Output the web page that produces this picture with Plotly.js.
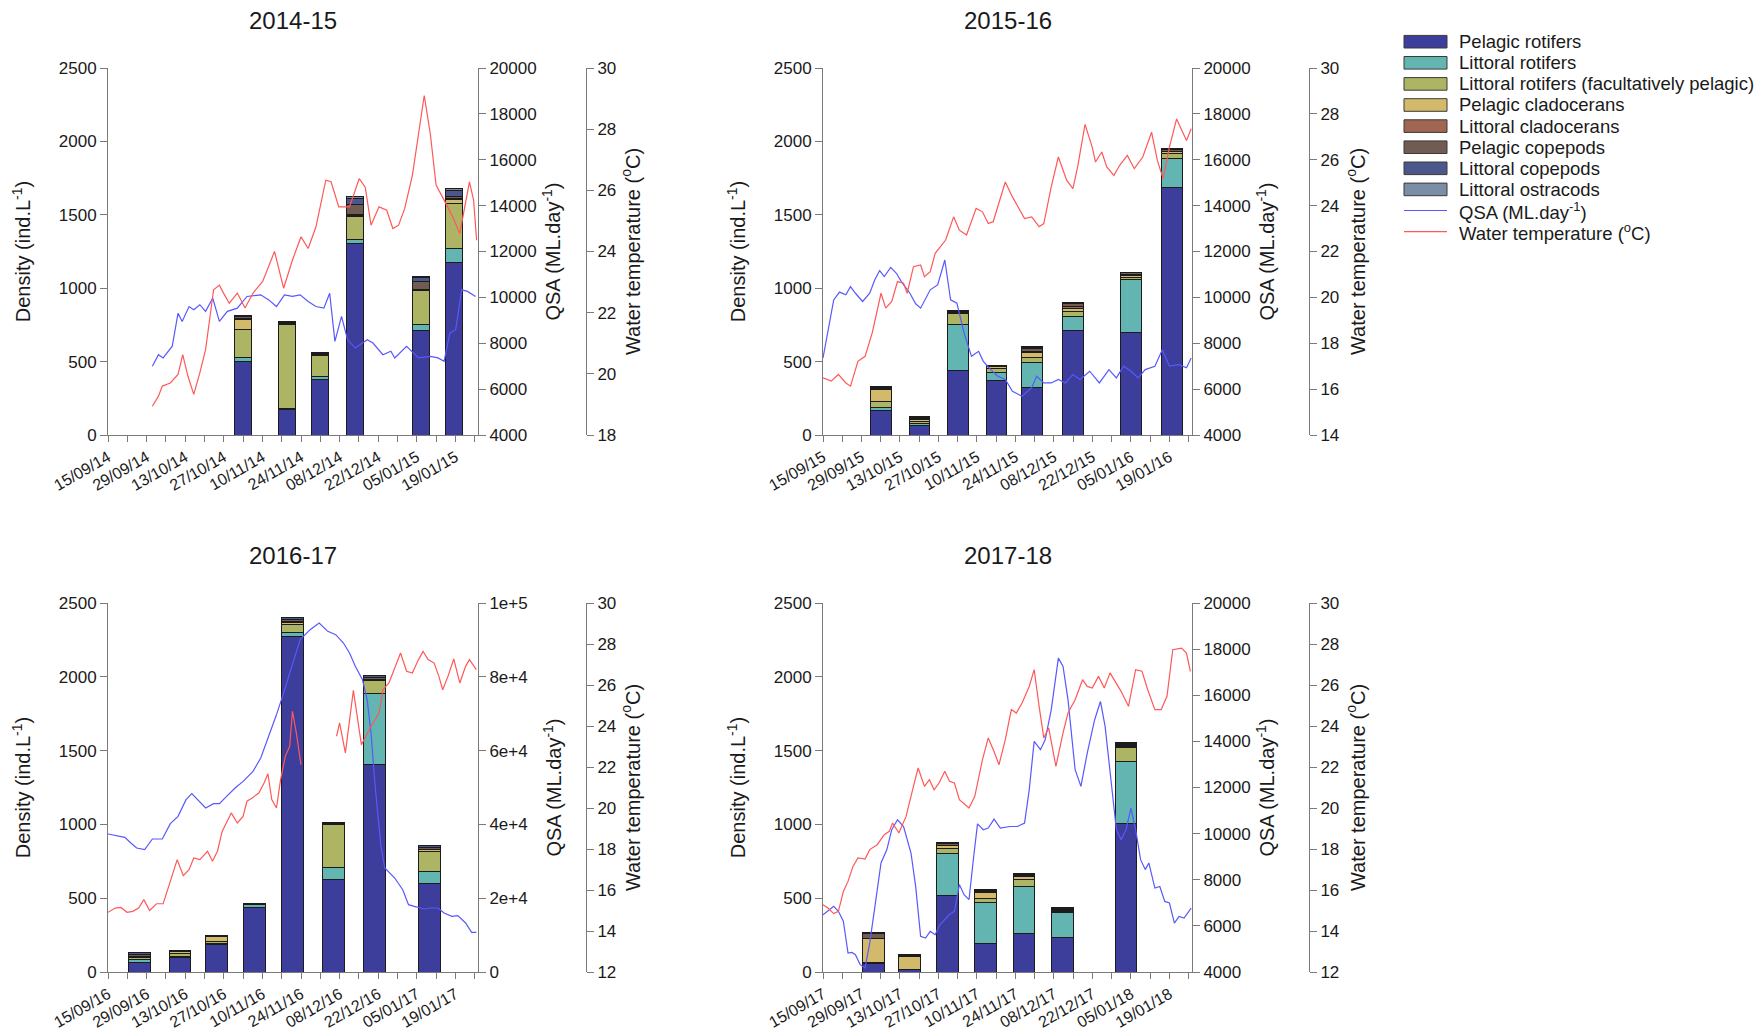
<!DOCTYPE html>
<html>
<head>
<meta charset="utf-8">
<script src="https://cdn.plot.ly/plotly-3.0.1.min.js"></script>
<style>
  html, body { margin: 0; padding: 0; background: #ffffff; }
  #chart { width: 1762px; height: 1032px; }
</style>
</head>
<body>
<div id="chart"></div>
<script>
// ---- Zooplankton groups (stacking order, bottom to top) ----
const groupNames = [
  'Pelagic rotifers',
  'Littoral rotifers',
  'Littoral rotifers (facultatively pelagic)',
  'Pelagic cladocerans',
  'Littoral cladocerans',
  'Pelagic copepods',
  'Littoral copepods',
  'Littoral ostracods'
];
const groupColors = [
  'rgb(61,61,155)', 'rgb(99,181,178)', 'rgb(173,181,101)', 'rgb(211,186,106)',
  'rgb(160,102,82)', 'rgb(112,92,82)', 'rgb(76,88,140)', 'rgb(124,142,166)'
];

// x values are days since 15 September of each season
// ---- 2014-15 ----
const ticks1415 = ['15/09/14','29/09/14','13/10/14','27/10/14','10/11/14','24/11/14','08/12/14','22/12/14','05/01/15','19/01/15'];
const sampleDay1415 = [49, 65, 77, 89.7, 113.6, 125.4];
const density1415 = [
  [502, 175, 378, 1305, 710, 1174],  // pelagic rotifers
  [23, 5, 22, 28, 41, 97],           // littoral rotifers
  [192, 570, 141, 153, 233, 306],    // littoral rotifers (facultatively pelagic)
  [70, 5, 8, 12, 5, 27],             // pelagic cladocerans
  [5, 3, 3, 5, 5, 10],               // littoral cladocerans
  [12, 10, 8, 70, 50, 8],            // pelagic copepods
  [5, 3, 3, 35, 30, 41],             // littoral copepods
  [3, 2, 2, 15, 5, 16]               // littoral ostracods
];
const qsaDay1415 = [16.1,18.3,20,23.3,25.4,26.9,29.4,31.1,33.3,35.4,38,40.4,43.3,46.9,50.4,55.4,58.3,61.1,64,66.9,69.7,72.6,75.4,78.3,80.4,82.3,84.7,86.9,89.7,94,96.1,99.7,102.6,104,108.3,112.6,116.9,119.7,121.9,124,126.1,128.3,130.4,133.3];
const qsa1415 = [7000,7500,7360,7870,9310,8950,9600,9460,9680,9390,9970,8950,9390,9530,10040,10110,9890,9600,10110,10040,10110,9820,9600,9530,10180,8080,9170,8150,7790,8150,8010,7500,7650,7360,7870,7360,7430,7360,7210,8450,8590,10330,10260,10040];
const tempDay1415 = [16.1,18.3,19.7,22.6,25.4,27.1,29,31.1,33.3,35.4,38.3,40.4,41.9,44,46.9,49.7,52.6,56.1,60.4,63.7,66.9,70,72.6,75.4,79,80.9,83.7,87.6,91.1,93.3,95.4,98.3,101.1,103.3,105.4,107.6,110.4,114.7,116.9,119,121.9,124.7,127.6,129,131.1,132.6,133.7];
const temp1415 = [18.94,19.27,19.6,19.7,19.98,20.63,19.92,19.33,20.03,20.79,22.75,22.9,22.64,22.31,22.64,22.15,22.64,23.02,24,22.8,23.72,24.48,24.1,24.8,26.33,26.28,25.46,25.46,26.38,26.1,24.86,25.46,25.35,24.75,24.86,25.4,26.49,29.1,27.85,26.17,25.68,25.19,24.59,25.24,26.28,25.68,24.37];

// ---- 2015-16 ----
const ticks1516 = ['15/09/15','29/09/15','13/10/15','27/10/15','10/11/15','24/11/15','08/12/15','22/12/15','05/01/16','19/01/16'];
const sampleDay1516 = [21.1, 35.1, 49.2, 63.1, 76.1, 91, 112, 126.9];
const density1516 = [
  [170, 66, 441, 371, 326, 710, 699, 1686],
  [15, 10, 310, 52, 169, 98, 358, 196],
  [45, 18, 79, 27, 30, 34, 15, 34],
  [80, 15, 5, 18, 34, 22, 12, 12],
  [5, 5, 3, 3, 12, 8, 8, 5],
  [8, 8, 6, 3, 18, 22, 12, 12],
  [5, 5, 4, 1, 10, 8, 5, 7],
  [0, 2, 0, 0, 5, 3, 0, 3]
];
const qsaDay1516 = [0,2.1,3.9,6,8.3,10,11.8,14.4,17,18.8,20.6,22.3,24.6,26.7,28.5,31.6,33.7,35.5,39,41.7,44.3,46.4,48.7,51.3,54,56.6,58.3,61,63.6,66.3,68.9,72.4,75.9,77.7,80.3,83,85.6,88.2,90.9,93.5,97,100.5,104,106.7,109.3,112,114.6,117.2,120.7,123.4,126,129.5,132.2,133.9];
const qsa1516 = [7360,8735,9890,10230,10110,10470,10180,9820,10180,10760,11170,10910,11310,11050,10690,10180,9720,9530,10330,10540,11630,9890,9750,8450,7430,7650,7210,6850,6560,6420,5910,5690,6060,6560,6270,6270,6420,6270,6640,6420,6780,6270,6850,6490,7000,6780,6490,6850,7000,7720,7000,7070,6930,7360];
const tempDay1516 = [0,3,5.6,8.3,10,12.7,15.3,17.9,21.1,22.8,25,27.1,29.3,30.6,32.9,35.5,36.9,39,40.8,44.6,47.5,49.6,52.2,55.7,58,60.1,61.9,66.3,68.9,73.3,75.9,78.6,80.3,83,85.6,88.6,90.9,92.6,95.3,97.9,99.1,101.4,103.2,105.8,107.9,110.7,113.2,116.3,119.5,121.6,123.7,126,128.6,130.4,132.2,133.9];
const temp1516 = [16.49,16.35,16.64,16.27,16.13,17.21,17.43,18.45,20.18,19.53,19.82,20.69,20.62,20.18,21.34,21.41,20.9,21.12,21.92,22.5,23.51,22.93,22.72,23.88,23.73,23.22,23.3,25.03,24.38,23.44,23.51,23.08,23.22,24.82,26.12,25.11,24.74,25.69,27.54,26.55,25.9,26.34,25.69,25.32,25.76,26.19,25.61,26.12,27.2,25.97,25.18,26.55,27.78,27.28,26.84,27.35];

// ---- 2016-17 ----
const ticks1617 = ['15/09/16','29/09/16','13/10/16','27/10/16','10/11/16','24/11/16','08/12/16','22/12/16','05/01/17','19/01/17'];
const sampleDay1617 = [11.4, 26.1, 39.3, 53.1, 67, 81.9, 96.7, 116.7];
const density1617 = [
  [65, 95, 185, 434, 2270, 626, 1409, 598],
  [22, 11, 11, 22, 31, 79, 477, 84],
  [8, 18, 11, 7, 52, 293, 88, 136],
  [5, 16, 35, 2, 16, 5, 6, 11],
  [3, 3, 2, 1, 4, 2, 3, 4],
  [15, 3, 1, 1, 14, 3, 13, 12],
  [12, 1, 1, 0, 14, 2, 10, 10],
  [3, 0, 0, 0, 4, 0, 4, 3]
];
const qsaDay1617 = [0,2.6,6.1,8.3,10.4,13.3,16.1,19.7,22.6,25.4,28.3,30.4,32.6,35.4,38.3,40.4,43.3,46.1,49,52.6,55.4,58.3,60.9,63.3,66.1,69.7,73.3,76.6,79.7,82.6,85.4,87.6,89.7,92.3,94,95.4,96.9,99,100.4,104,106.9,109,111.1,114.7,116.9,119.7,121.9,124.7,126.9,129.7,131.9,133.6];
const qsa1617 = [37400,37040,36500,34960,33600,33150,36040,36040,40200,42190,46700,48330,46700,44440,45620,45620,47790,49860,51670,54380,57990,63870,69290,74710,81480,90060,92770,94580,92320,91420,89160,86450,82840,79220,73800,64770,50320,34060,28180,25470,22310,18250,17800,17070,17340,17340,15990,15090,15270,13280,10750,10750];
const tempDay1617 = [0,2.6,4.7,6.9,9,11.1,13,15.1,17.6,20,22.6,25.1,27.3,29.4,31.1,33.3,36.1,37.9,39.7,41.4,44.7,46.9,49,50.4,52.3,54.7,56.6,58,59.4,61.1,62.6,64.3,65.9,66.9,68.3,70,76,82.9,84,86.1,89,91.9,94,96.1,98.3,99.7,101.9,103.3,106.1,108.3,110.4,112.6,114.3,116.1,118.3,120,121.4,123.3,125.4,127.6,129.7,131.1,133.6];
const temp1617 = [14.91,15.12,15.15,14.91,14.96,15.12,15.53,15,15.33,15.33,16.42,17.48,16.7,16.99,17.56,17.48,17.89,17.4,17.89,18.86,19.76,19.27,19.59,20.33,20.49,20.73,21.22,21.67,20.41,20,21.38,22.52,23.01,24.72,23.66,22.11,null,23.5,24.15,22.69,25.74,23.09,23.66,24.15,24.63,25.77,26.1,26.58,27.56,26.67,26.58,27.24,27.64,27.24,27.07,26.42,25.77,26.42,27.27,26.1,26.91,27.24,26.75];

// ---- 2017-18 ----
const ticks1718 = ['15/09/17','29/09/17','13/10/17','27/10/17','10/11/17','24/11/17','08/12/17','22/12/17','05/01/18','19/01/18'];
const sampleDay1718 = [18.3, 31.5, 45.2, 59.2, 73.1, 87, 110.2];
const density1718 = [
  [60, 15, 520, 190, 260, 237, 1003],
  [3, 2, 282, 284, 320, 163, 420],
  [3, 3, 38, 27, 50, 4, 95],
  [158, 85, 16, 39, 18, 7, 11],
  [5, 3, 3, 3, 4, 3, 4],
  [30, 7, 10, 8, 8, 12, 8],
  [10, 2, 5, 5, 4, 6, 10],
  [2, 0, 2, 2, 2, 2, 3]
];
const qsaDay1718 = [0,2.1,3.9,5.6,7.4,9.1,10.5,11.8,13.5,15.3,17,18.8,21.1,23.2,25,27.1,29.3,32,33.7,35.5,37.3,39,40.8,42.5,44.3,46,47.8,49.6,51.3,53.1,54.8,56.2,58.3,60.1,62.2,64.5,68,70.7,73.3,75,76.8,79.1,80.8,83,85.6,87.3,89.1,91.7,93.8,96.1,98.8,100.9,102.6,104.9,106.7,108.4,110.2,112,113.7,115.5,117.2,118.5,120.7,122.5,124.3,126,127.8,129.5,131.3,133.9];
const qsa1718 = [6485,6700,6850,6630,6200,4820,4850,4750,4320,4170,5260,6770,8730,9300,10170,10600,10310,9160,7710,5550,5470,5760,5620,6050,6270,6490,6630,7790,7350,7140,9010,10420,10170,10240,10630,10240,10310,10310,10460,11900,14000,13640,14070,15370,17610,17250,15810,12770,12050,13490,14940,15730,14650,12050,10170,9740,10170,11110,10170,8870,8440,8730,7640,7710,7060,6990,6120,6410,6340,6770];
const tempDay1718 = [0,1.8,3.9,5.6,7.4,9.1,10.9,12.7,15.3,17,19.7,22.3,24.1,25.3,27.6,30.2,32.9,34.6,36.9,38.7,40.4,42.2,44.3,46,47.8,49.6,53.1,55.2,58,60.1,62.2,64,66.3,68.5,70.3,72.4,75,76.8,78.6,80.3,82.1,84.7,87.3,89.1,91.7,94.4,96.1,97.9,100.2,102.3,104.4,106.7,108.4,111.1,113.7,116,118.1,120.7,123,125.1,127.2,130.4,132.2,133.6];
const temp1718 = [15.28,15.12,14.85,14.96,15.93,16.42,17.15,17.56,17.51,17.97,18.21,18.7,18.86,19.27,18.78,19.59,21.06,21.95,21.06,21.38,20.89,21.22,21.79,21.3,21.22,20.41,20,20.57,22.36,23.42,22.76,22.11,23.33,24.8,24.63,25.12,25.93,26.75,24.96,23.42,23.9,22.03,23.66,24.63,25.28,26.26,25.93,25.85,26.42,25.85,26.59,26.1,25.69,24.96,26.75,26.67,25.77,24.8,24.8,25.45,27.72,27.8,27.56,26.67];

// ---- discharge / temperature axis ticks ----
const qsaTicksSmall = [4000, 6000, 8000, 10000, 12000, 14000, 16000, 18000, 20000];
const qsaTicksLarge = [0, 20000, 40000, 60000, 80000, 100000];
const qsaLabelsLarge = ['0', '2e+4', '4e+4', '6e+4', '8e+4', '1e+5'];

// ---- page geometry (pixels) ----
const W = 1762, H = 1032;
const px = v => v / W;
const py = v => 1 - v / H;
const columns = [ { left: 108, right: 478, temp: 586 }, { left: 823, right: 1192, temp: 1309 } ];
const rows = [ { top: 68, bottom: 435, title: 20 }, { top: 603, bottom: 972, title: 555 } ];

const QSA_COLOR = 'rgb(88,88,255)';
const TEMP_COLOR = 'rgb(255,88,88)';
const AXIS_COLOR = '#7a7a7a';
const FONT = 'Liberation Sans, Arial, sans-serif';

const panels = [
  { title: '2014-15', col: 0, row: 0, ticks: ticks1415, days: sampleDay1415, dens: density1415, barWidth: 6.2,
    qsaDay: qsaDay1415, qsa: qsa1415, tempDay: tempDay1415, temp: temp1415,
    qsaRange: [4000, 20000], qsaTickVals: qsaTicksSmall, qsaTickText: qsaTicksSmall.map(String),
    tempRange: [18, 30], qsaStandoff: 10, tempStandoff: 10 },
  { title: '2015-16', col: 1, row: 0, ticks: ticks1516, days: sampleDay1516, dens: density1516, barWidth: 7.6,
    qsaDay: qsaDay1516, qsa: qsa1516, tempDay: tempDay1516, temp: temp1516,
    qsaRange: [4000, 20000], qsaTickVals: qsaTicksSmall, qsaTickText: qsaTicksSmall.map(String),
    tempRange: [14, 30], qsaStandoff: 10, tempStandoff: 12 },
  { title: '2016-17', col: 0, row: 1, ticks: ticks1617, days: sampleDay1617, dens: density1617, barWidth: 7.9,
    qsaDay: qsaDay1617, qsa: qsa1617, tempDay: tempDay1617, temp: temp1617,
    qsaRange: [0, 100000], qsaTickVals: qsaTicksLarge, qsaTickText: qsaLabelsLarge,
    tempRange: [12, 30], qsaStandoff: 20, tempStandoff: 10 },
  { title: '2017-18', col: 1, row: 1, ticks: ticks1718, days: sampleDay1718, dens: density1718, barWidth: 7.9,
    qsaDay: qsaDay1718, qsa: qsa1718, tempDay: tempDay1718, temp: temp1718,
    qsaRange: [4000, 20000], qsaTickVals: qsaTicksSmall, qsaTickText: qsaTicksSmall.map(String),
    tempRange: [12, 30], qsaStandoff: 10, tempStandoff: 12 }
];

const axisBase = {
  showline: true, linecolor: AXIS_COLOR, linewidth: 1,
  ticks: 'outside', ticklen: 7, tickcolor: AXIS_COLOR, tickwidth: 1,
  showgrid: false, zeroline: false,
  tickfont: { family: FONT, size: 17, color: '#1a1a1a' }
};
const titleFont = { family: FONT, size: 20, color: '#1a1a1a' };

const traces = [];
const layout = {
  width: W, height: H,
  margin: { l: 0, r: 0, t: 0, b: 0 },
  paper_bgcolor: '#ffffff', plot_bgcolor: 'rgba(0,0,0,0)',
  font: { family: FONT, size: 17, color: '#1a1a1a' },
  barmode: 'stack',
  showlegend: false,
  annotations: [],
  shapes: []
};

panels.forEach((p, i) => {
  const c = columns[p.col], r = rows[p.row];
  const xName = i === 0 ? 'x' : 'x' + (i + 1);
  const yN = 3 * i + 1;
  const yDens = yN === 1 ? 'y' : 'y' + yN;
  const yQsa = 'y' + (yN + 1);
  const yTemp = 'y' + (yN + 2);
  const key = id => id.replace('x', 'xaxis').replace('y', 'yaxis');

  layout[key(xName)] = Object.assign({}, axisBase, {
    domain: [px(c.left), px(c.right)], anchor: yDens,
    range: [0, 134.2],
    tickmode: 'array', tickvals: p.ticks.map((_, k) => k * 14), ticktext: p.ticks,
    tickangle: -30, ticklen: 6,
    tickfont: { family: FONT, size: 16, color: '#1a1a1a' },
    minor: { tickmode: 'linear', tick0: 7, dtick: 14, ticks: 'outside', ticklen: 6, tickcolor: AXIS_COLOR, tickwidth: 1 }
  });
  layout[key(yDens)] = Object.assign({}, axisBase, {
    domain: [py(r.bottom), py(r.top)], anchor: xName,
    range: [0, 2500], tickmode: 'linear', tick0: 0, dtick: 500,
    title: { text: 'Density (ind.L<sup>-1</sup>)', font: titleFont, standoff: 22 }
  });
  layout[key(yQsa)] = Object.assign({}, axisBase, {
    overlaying: yDens, side: 'right', anchor: xName,
    range: p.qsaRange, tickmode: 'array', tickvals: p.qsaTickVals, ticktext: p.qsaTickText,
    title: { text: 'QSA (ML.day<sup>-1</sup>)', font: titleFont, standoff: p.qsaStandoff }
  });
  layout[key(yTemp)] = Object.assign({}, axisBase, {
    overlaying: yDens, side: 'right', anchor: 'free', position: px(c.temp),
    range: p.tempRange, tickmode: 'linear', tick0: p.tempRange[0], dtick: 2,
    title: { text: 'Water temperature (<sup>o</sup>C)', font: titleFont, standoff: p.tempStandoff }
  });

  // stacked zooplankton densities
  groupNames.forEach((name, g) => {
    traces.push({
      type: 'bar', name: name, x: p.days, y: p.dens[g], width: p.barWidth,
      xaxis: xName, yaxis: yDens,
      marker: { color: groupColors[g], line: { color: '#1c1c1c', width: 1 } },
      hoverinfo: 'skip'
    });
  });
  // discharge and water temperature
  traces.push({
    type: 'scatter', mode: 'lines', name: 'QSA (ML.day<sup>-1</sup>)',
    x: p.qsaDay, y: p.qsa, xaxis: xName, yaxis: yQsa,
    line: { color: QSA_COLOR, width: 1.2 }, hoverinfo: 'skip'
  });
  traces.push({
    type: 'scatter', mode: 'lines', name: 'Water temperature (<sup>o</sup>C)',
    x: p.tempDay, y: p.temp, xaxis: xName, yaxis: yTemp, connectgaps: false,
    line: { color: TEMP_COLOR, width: 1.2 }, hoverinfo: 'skip'
  });

  layout.annotations.push({
    text: p.title, xref: 'paper', yref: 'paper',
    x: px((c.left + c.right) / 2), y: py(r.title),
    xanchor: 'center', yanchor: 'middle', showarrow: false,
    font: { family: FONT, size: 24, color: '#1a1a1a' }
  });
});

// ---- key ----
const keyLeft = 1404, keyRight = 1447, keyText = 1457, keyTop = 41.7, keyStep = 21.1;
const keyItems = groupNames.map((n, g) => ({ label: n, kind: 'box', color: groupColors[g] }))
  .concat([
    { label: 'QSA (ML.day<sup>-1</sup>)', kind: 'line', color: QSA_COLOR },
    { label: 'Water temperature (<sup>o</sup>C)', kind: 'line', color: TEMP_COLOR }
  ]);
keyItems.forEach((it, k) => {
  const yc = keyTop + k * keyStep;
  if (it.kind === 'box') {
    layout.shapes.push({
      type: 'rect', xref: 'paper', yref: 'paper',
      x0: px(keyLeft), x1: px(keyRight), y0: py(yc + 6.3), y1: py(yc - 6.3),
      fillcolor: it.color, line: { color: '#3a3a3a', width: 1 }
    });
  } else {
    layout.shapes.push({
      type: 'line', xref: 'paper', yref: 'paper',
      x0: px(keyLeft), x1: px(keyRight), y0: py(yc), y1: py(yc),
      line: { color: it.color, width: 1.2 }
    });
  }
  layout.annotations.push({
    text: it.label, xref: 'paper', yref: 'paper',
    x: px(keyText), y: py(yc), xanchor: 'left', yanchor: 'middle', showarrow: false,
    font: { family: FONT, size: 18.5, color: '#1a1a1a' }
  });
});

Plotly.newPlot('chart', traces, layout, { staticPlot: true, displayModeBar: false });
</script>
</body>
</html>
